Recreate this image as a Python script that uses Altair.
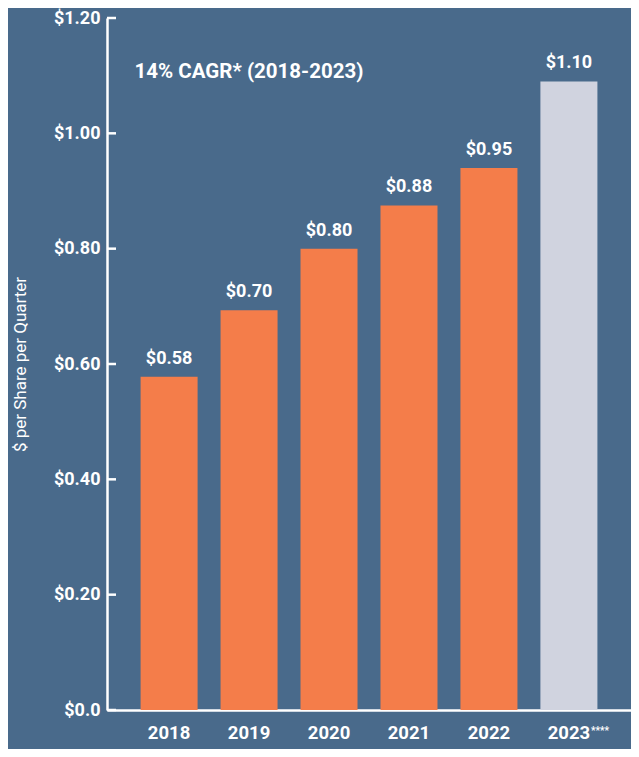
import altair as alt
import pandas as pd

years = ["2018", "2019", "2020", "2021", "2022", "2023****"]
values = [0.578, 0.693, 0.80, 0.875, 0.94, 1.09]
labels = ["$0.58", "$0.70", "$0.80", "$0.88", "$0.95", "$1.10"]
kinds = ["actual", "actual", "actual", "actual", "actual", "projected"]
tick_values = [0.0, 0.2, 0.4, 0.6, 0.8, 1.0, 1.2]
note_text = ["14% CAGR* (2018-2023)"]
note_y = [1.107]
footnote_marks = ["****"]

BG = "#496a8b"
FONT = "Roboto"

df = pd.DataFrame({"year": years, "value": values, "label": labels, "kind": kinds})
ticks_df = pd.DataFrame({"t": tick_values})
note_df = pd.DataFrame({"text": note_text, "y": note_y, "year": [years[0]]})
star_df = pd.DataFrame({"year": [years[-1]], "text": footnote_marks, "y": [0.0]})

x_scale = alt.Scale(domain=years, paddingInner=0.287, paddingOuter=0.42)
y_scale = alt.Scale(domain=[0, 1.2], nice=False)

x_enc = alt.X("year:N", scale=x_scale, sort=years,
              axis=alt.Axis(title=None, labelAngle=0, ticks=False, domainColor="white",
                            domainWidth=2.5, labelColor="white", labelFont=FONT,
                            labelFontWeight="bold", labelFontSize=18.5, labelPadding=13,
                            labelExpr="replace(datum.label, regexp('\\\\*', 'g'), '')"))
y_enc = alt.Y("value:Q", scale=y_scale,
              axis=alt.Axis(title="$ per Share per Quarter", values=tick_values, ticks=False,
                            domainColor="white", domainWidth=2.5, grid=False,
                            labelColor="white", labelFont=FONT, labelFontWeight="bold",
                            labelFontSize=18, labelPadding=7,
                            labelExpr="datum.value == 0 ? '$0.0' : '$' + format(datum.value, '.2f')",
                            titleColor="white", titleFont=FONT, titleFontWeight="normal",
                            titleFontSize=17, titlePadding=24))

bars = alt.Chart(df).mark_bar().encode(
    x=x_enc,
    y=y_enc,
    color=alt.Color("kind:N", scale=alt.Scale(domain=["actual", "projected"],
                                              range=["#f47d4a", "#d0d3df"]), legend=None),
)

bar_text = alt.Chart(df).mark_text(baseline="bottom", dy=-9, color="white", font=FONT,
                                   fontWeight="bold", fontSize=18).encode(
    x=alt.X("year:N", scale=x_scale, sort=years),
    y=alt.Y("value:Q", scale=y_scale),
    text="label:N",
)

tick_marks = alt.Chart(ticks_df).mark_rule(color="white", strokeWidth=2.5).encode(
    y=alt.Y("t:Q", scale=y_scale),
    x=alt.value(0),
    x2=alt.value(9),
)

note = alt.Chart(note_df).mark_text(align="left", baseline="middle", dx=-6, color="white",
                                    font=FONT, fontWeight="bold", fontSize=20.5).encode(
    x=alt.X("year:N", scale=x_scale, sort=years, bandPosition=0),
    y=alt.Y("y:Q", scale=y_scale),
    text="text:N",
)

stars = alt.Chart(star_df).mark_text(align="left", baseline="top", dx=22, dy=16, color="white",
                                     font=FONT, fontWeight="bold", fontSize=10).encode(
    x=alt.X("year:N", scale=x_scale, sort=years),
    y=alt.Y("y:Q", scale=y_scale),
    text="text:N",
)

chart = alt.layer(bars, bar_text, tick_marks, note, stars).properties(
    width=524, height=692,
    autosize=alt.AutoSizeParams(type="none"),
    padding={"left": 99, "top": 10, "right": 0, "bottom": 39},
    background=BG,
).configure_view(stroke=None)

chart.save("out.html", embed_options={"renderer": "svg", "actions": False})
